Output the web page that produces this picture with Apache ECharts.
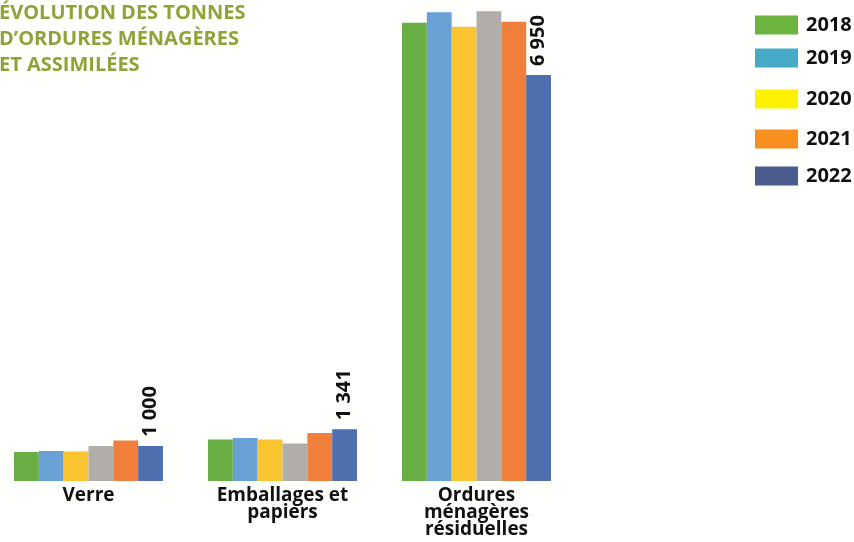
<!DOCTYPE html>
<html>
<head>
<meta charset="utf-8">
<script src="https://cdn.jsdelivr.net/npm/echarts@6/dist/echarts.min.js"></script>
<style>
    html, body { margin: 0; padding: 0; background: #fffffd; }
    #chart { width: 854px; height: 542px; }
</style>
</head>
<body>
<div id="chart"></div>
<script>
// categories on the x axis
var categories = ['Verre', 'Emballages et\npapiers', 'Ordures\nménagères\nrésiduelles']

// bar values (tonnes)
var serie1 = [497, 709, 7846]
var serie2 = [514, 737, 8024]
var serie3 = [505, 709, 7777]
var serie4 = [600, 641, 8041]
var serie5 = [694, 822, 7863]
var serie6 = [600, 886, 6950]

// printed labels above the last bar of each group
var lastLabels = ['1 000', '1 341', '6 950']

// legend entries as printed
var legendNames = ['2018', '2019', '2020', '2021', '2022']

var barColors = ['#6aae46', '#6aa1d5', '#fbc531', '#b1aeaa', '#ef7f3b', '#4f6fae']
var legendColors = ['#6db33f', '#46a9c6', '#fff200', '#f7901f', '#4a5b8d']
var legendTops = [10, 43, 84, 124, 161]

var chart = echarts.init(document.getElementById('chart'))

var seriesValues = [serie1, serie2, serie3, serie4, serie5, serie6]
var seriesNames = ['2018', '2019', '2020', 'gris', '2021', '2022']

var series = seriesValues.map(function (vals, i) {
    var s = {
        name: seriesNames[i],
        type: 'bar',
        barGap: 0,
        barCategoryGap: '23.2%',
        itemStyle: { color: barColors[i] },
        data: vals
    }
    if (i === 5) {
        s.label = {
            show: true,
            position: 'top',
            rotate: 90,
            align: 'left',
            verticalAlign: 'middle',
            distance: 9,
            fontFamily: 'Open Sans',
            fontWeight: 'bold',
            fontSize: 20,
            color: '#111',
            formatter: function (p) {
                return lastLabels[p.dataIndex]
            }
        }
    }
    return s
})

var legends = legendNames.map(function (name, i) {
    return {
        orient: 'vertical',
        left: 750,
        top: legendTops[i],
        icon: 'rect',
        itemWidth: 43,
        itemHeight: 19,
        itemGap: 0,
        selectedMode: false,
        textStyle: {
            fontFamily: 'Open Sans',
            fontWeight: 'bold',
            fontSize: 20,
            color: '#111',
            padding: [0, 0, 0, 3]
        },
        data: [{ name: name, itemStyle: { color: legendColors[i] } }]
    }
})

chart.setOption({
    animation: false,
    backgroundColor: '#fffffd',
    title: {
        text: 'ÉVOLUTION DES TONNES\nD’ORDURES MÉNAGÈRES\nET ASSIMILÉES',
        left: -1,
        top: 0,
        padding: 0,
        textStyle: {
            fontFamily: 'Open Sans',
            fontWeight: 'bold',
            fontSize: 20,
            lineHeight: 26,
            color: '#90a238'
        }
    },
    legend: legends,
    grid: {
        left: -8.5,
        right: 280.5,
        top: 0,
        bottom: 61,
        outerBoundsMode: 'none'
    },
    xAxis: {
        type: 'category',
        data: categories,
        axisLine: { show: false },
        axisTick: { show: false },
        axisLabel: {
            margin: 6,
            fontFamily: 'Open Sans',
            fontWeight: 'bold',
            fontSize: 19,
            lineHeight: 17,
            color: '#111',
            interval: 0
        }
    },
    yAxis: {
        type: 'value',
        min: 0,
        max: 8235,
        show: false
    },
    series: series
})
</script>
</body>
</html>
